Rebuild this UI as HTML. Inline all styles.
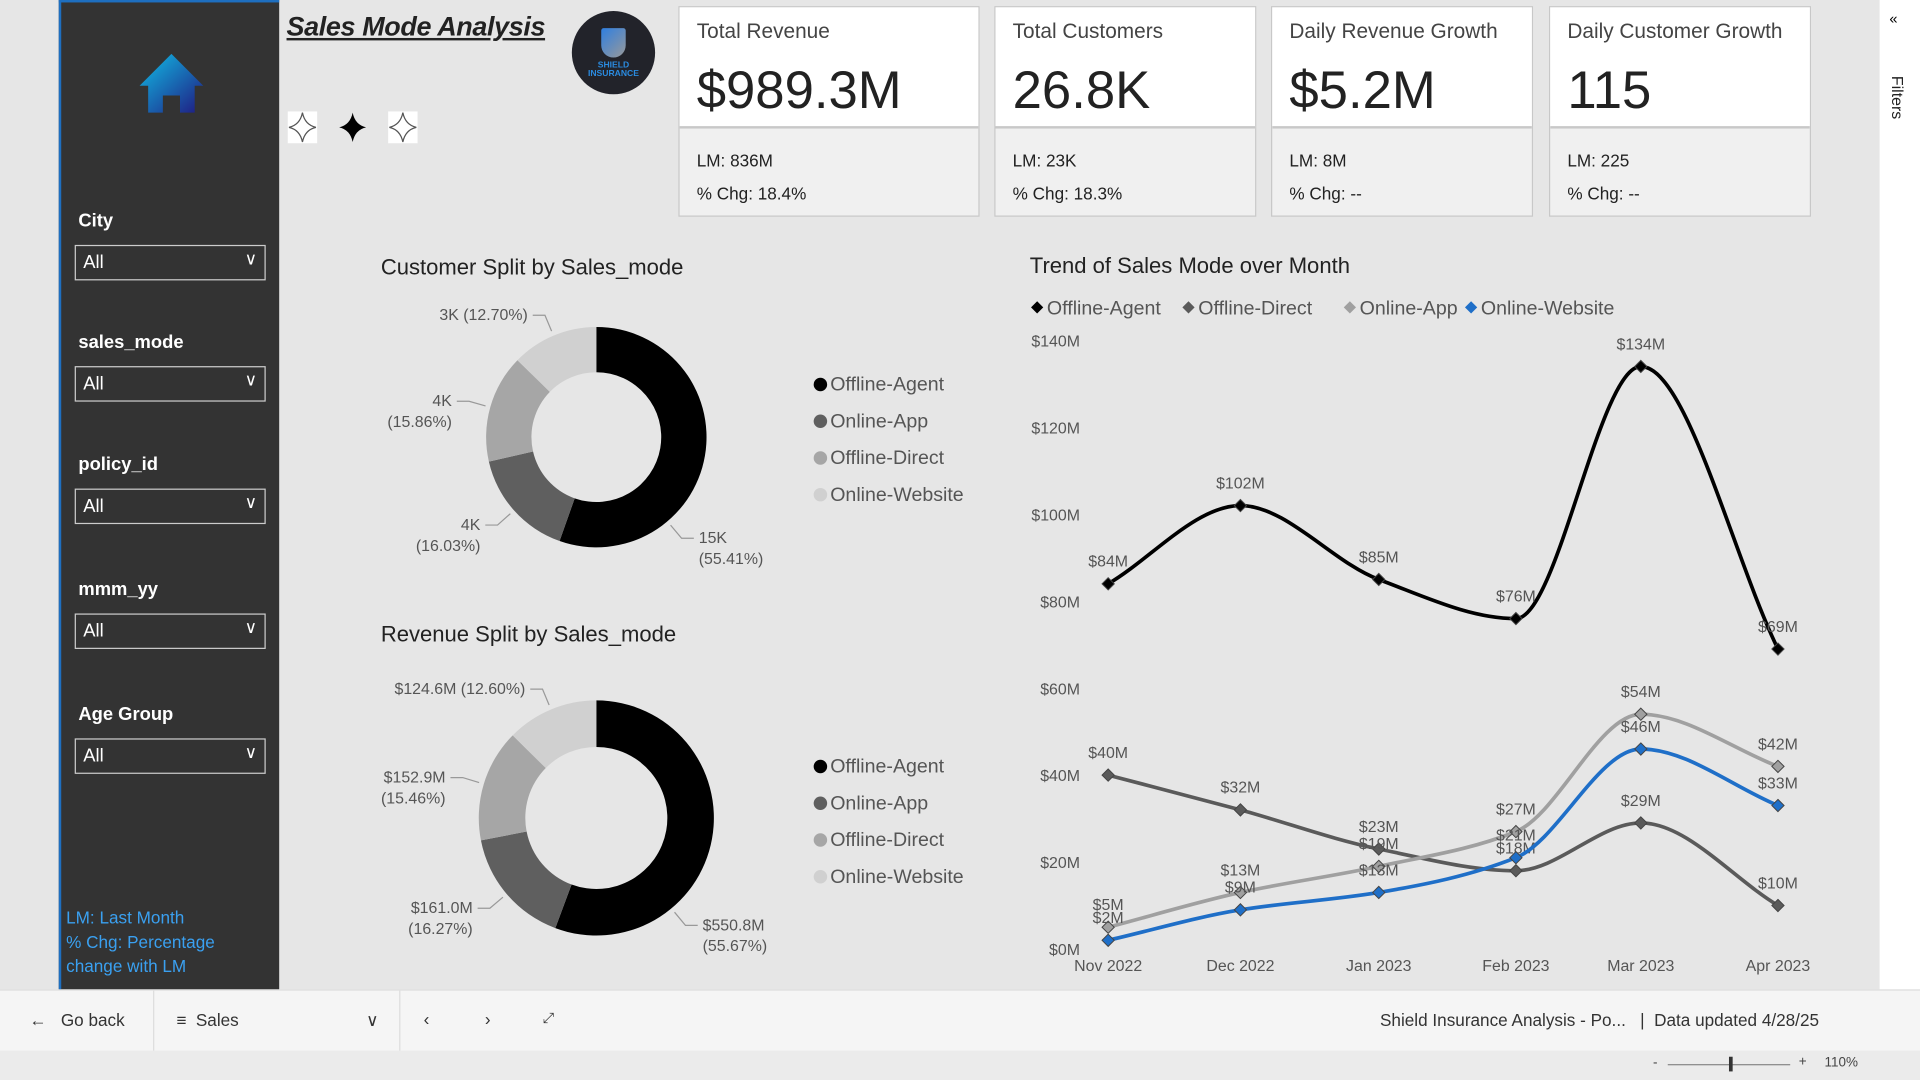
<!DOCTYPE html>
<html><head><meta charset="utf-8">
<style>
html,body{margin:0;padding:0;width:1920px;height:1080px;overflow:hidden;background:#e6e6e6;font-family:"Liberation Sans",sans-serif}
#wrap{position:absolute;left:0;top:0;width:1568px;height:882px;transform:scale(1.22449);transform-origin:0 0;background:#e6e6e6}
.abs{position:absolute}
.side{left:48px;top:0;width:180px;height:808px;background:#333;border-left:2px solid #1e6fc0;border-top:2px solid #1e6fc0;box-sizing:border-box}
.lbl{color:#fff;font-size:15px;font-weight:bold;left:14px}
.dd{left:11px;width:156px;height:29px;border:1px solid #ccc;box-sizing:border-box;color:#fff;font-size:15px;padding:5px 6px}
.dd span{position:absolute;right:6px;top:2px;font-size:14px}
.card{background:#f0f0f0;border:1px solid #c8c8c8;box-sizing:border-box}
.card .top{position:absolute;left:0;top:0;right:0;height:97px;background:#fff;border-bottom:2px solid #c8c8c8}
.card .t{position:absolute;left:14px;top:10px;font-size:17px;color:#444}
.card .v{position:absolute;left:14px;top:44px;font-size:43px;color:#222}
.card .s{position:absolute;left:14px;font-size:14px;color:#222}
.ttl{font-size:18px;color:#222}
</style></head><body>
<div id="wrap">
<div class="abs side">
  <svg class="abs" style="left:62px;top:40px" width="56" height="52">
    <defs><linearGradient id="hg" x1="0" y1="0" x2="1" y2="1"><stop offset="0" stop-color="#10c0e8"/><stop offset="1" stop-color="#201880"/></linearGradient></defs>
    <path d="M28 2 L54 28 L47 28 L47 50 L35 50 L35 36 L21 36 L21 50 L9 50 L9 28 L2 28 Z" fill="url(#hg)"/>
  </svg>
  <div class="abs lbl" style="top:170px">City</div>
  <div class="abs dd" style="top:198px">All<span>&#x2228;</span></div>
  <div class="abs lbl" style="top:269px">sales_mode</div>
  <div class="abs dd" style="top:297px">All<span>&#x2228;</span></div>
  <div class="abs lbl" style="top:369px">policy_id</div>
  <div class="abs dd" style="top:397px">All<span>&#x2228;</span></div>
  <div class="abs lbl" style="top:471px">mmm_yy</div>
  <div class="abs dd" style="top:499px">All<span>&#x2228;</span></div>
  <div class="abs lbl" style="top:573px">Age Group</div>
  <div class="abs dd" style="top:601px">All<span>&#x2228;</span></div>
  <div class="abs" style="left:4px;top:737px;color:#3aa0f0;font-size:14px;line-height:20px">LM: Last Month<br>% Chg: Percentage<br>change with LM</div>
</div>

<div class="abs" style="left:234px;top:9px;font-size:22px;font-weight:bold;font-style:italic;text-decoration:underline;color:#222;letter-spacing:-0.3px">Sales Mode Analysis</div>
<div class="abs" style="left:467px;top:9px;width:68px;height:68px;border-radius:50%;background:#22232a;color:#2a8be0;font-size:7px;font-weight:bold;text-align:center"><div style="margin:14px auto 0;width:20px;height:24px;background:linear-gradient(135deg,#2f7fe0,#999);border-radius:2px 2px 10px 10px"></div><div style="margin-top:3px">SHIELD<br>INSURANCE</div></div>
<svg class="abs" style="left:234px;top:90px" width="112" height="28">
  <rect x="1" y="1" width="24" height="26" fill="#fff"/><path d="M13 2 Q15 12 24 14 Q15 16 13 26 Q11 16 2 14 Q11 12 13 2Z" fill="#fff" stroke="#555"/>
  <path d="M54 2 Q56 12 65 14 Q56 16 54 26 Q52 16 43 14 Q52 12 54 2Z" fill="#000"/>
  <rect x="83" y="1" width="24" height="26" fill="#fff"/><path d="M95 2 Q97 12 106 14 Q97 16 95 26 Q93 16 84 14 Q93 12 95 2Z" fill="#fff" stroke="#555"/>
</svg>

<div class="abs card" style="left:554px;top:5px;width:246px;height:172px"><div class="top"><div class="t">Total Revenue</div><div class="v">$989.3M</div></div><div class="s" style="top:117px">LM: 836M</div><div class="s" style="top:144px">% Chg: 18.4%</div></div>
<div class="abs card" style="left:812px;top:5px;width:214px;height:172px"><div class="top"><div class="t">Total Customers</div><div class="v">26.8K</div></div><div class="s" style="top:117px">LM: 23K</div><div class="s" style="top:144px">% Chg: 18.3%</div></div>
<div class="abs card" style="left:1038px;top:5px;width:214px;height:172px"><div class="top"><div class="t">Daily Revenue Growth</div><div class="v">$5.2M</div></div><div class="s" style="top:117px">LM: 8M</div><div class="s" style="top:144px">% Chg: --</div></div>
<div class="abs card" style="left:1265px;top:5px;width:214px;height:172px"><div class="top"><div class="t">Daily Customer Growth</div><div class="v">115</div></div><div class="s" style="top:117px">LM: 225</div><div class="s" style="top:144px">% Chg: --</div></div>

<div class="abs ttl" style="left:311px;top:208px">Customer Split by Sales_mode</div>
<div class="abs ttl" style="left:311px;top:508px">Revenue Split by Sales_mode</div>
<div class="abs ttl" style="left:841px;top:207px">Trend of Sales Mode over Month</div>

<svg class="abs" id="donuts" style="left:0;top:0" width="840" height="808"></svg>
<svg class="abs" id="line" style="left:830px;top:230px" width="680" height="575"></svg>

<div class="abs" style="left:1535px;top:0;width:33px;height:808px;background:#fff"><div style="position:absolute;left:8px;top:8px;font-size:12px">&laquo;</div><div style="position:absolute;top:62px;transform:rotate(90deg);transform-origin:left top;left:22px;font-size:13px;color:#222">Filters</div></div>
<div class="abs" style="left:0;top:808px;width:1568px;height:50px;background:#f5f5f5;border-top:1px solid #ddd;font-size:14px;color:#333">
  <div class="abs" style="left:24px;top:16px">&larr;&nbsp;&nbsp;&nbsp;Go back</div>
  <div class="abs" style="left:125px;top:0;width:1px;height:50px;background:#ddd"></div>
  <div class="abs" style="left:144px;top:16px">&#8801;&nbsp;&nbsp;Sales<span style="position:absolute;left:155px">&#x2228;</span></div>
  <div class="abs" style="left:326px;top:0;width:1px;height:50px;background:#ddd"></div>
  <div class="abs" style="left:346px;top:15px">&lsaquo;</div>
  <div class="abs" style="left:396px;top:15px">&rsaquo;</div>
  <div class="abs" style="left:443px;top:15px;font-size:12px">&#x2922;</div>
  <div class="abs" style="left:1127px;top:16px">Shield Insurance Analysis - Po...&nbsp;&nbsp;&nbsp;|&nbsp;&nbsp;Data updated 4/28/25</div>
</div>
<div class="abs" style="left:0;top:858px;width:1568px;height:24px;background:#ebebeb;font-size:11px;color:#444">
  <div class="abs" style="left:1350px;top:4px">-</div>
  <div class="abs" style="left:1362px;top:11px;width:100px;height:1px;background:#888"></div>
  <div class="abs" style="left:1412px;top:5px;width:3px;height:12px;background:#333"></div>
  <div class="abs" style="left:1469px;top:3px">+</div>
  <div class="abs" style="left:1490px;top:4px">110%</div>
</div>
</div>
<script>
const NS="http://www.w3.org/2000/svg";
function mk(p,t,a){const e=document.createElementNS(NS,t);for(const k in a)e.setAttribute(k,a[k]);p.appendChild(e);return e;}
const donutCats=["Offline-Agent","Online-App","Offline-Direct","Online-Website"];
const custPct=[55.41,16.03,15.86,12.70];
const custLbl=["15K","4K","4K","3K"];
const revPct=[55.67,16.27,15.46,12.60];
const revLbl=["$550.8M","$161.0M","$152.9M","$124.6M"];
const donutColors=["#000000","#5f5f5f","#a6a6a6","#d0d0d0"];
const labelShift=[0.7,0,0,0];
const D=document.getElementById('donuts');
function donut(cx,cy,R,r,pcts,lbls,name){
  let a0=0;
  pcts.forEach((p,i)=>{
    const a1=a0+p/100*2*Math.PI;
    const pt=(rad,a)=>[cx+rad*Math.sin(a),cy-rad*Math.cos(a)];
    const [x0,y0]=pt(R,a0),[x1,y1]=pt(R,a1),[x2,y2]=pt(r,a1),[x3,y3]=pt(r,a0);
    const lg=(a1-a0)>Math.PI?1:0;
    const s=mk(D,'path',{d:`M${x0} ${y0}A${R} ${R} 0 ${lg} 1 ${x1} ${y1}L${x2} ${y2}A${r} ${r} 0 ${lg} 0 ${x3} ${y3}Z`,fill:donutColors[i]});
    
    
    const am=(a0+a1)/2+labelShift[i];const [lx,ly]=pt(R+4,am);const [ex,ey]=pt(R+18,am);
    const right=Math.sin(am)>0;const hx=ex+(right?10:-10);
    mk(D,'polyline',{points:`${lx},${ly} ${ex},${ey} ${hx},${ey}`,fill:'none',stroke:'#999'});
    const tx=hx+(right?4:-4);
    const t=mk(D,'text',{x:tx,y:ey+(i==3?4:4),'font-size':13,fill:'#555','text-anchor':right?'start':'end','font-family':'Liberation Sans'});
    
    
    if(i==3){t.textContent=lbls[i]+' ('+p.toFixed(2)+'%)';}
    else{mk(t,'tspan',{x:tx}).textContent=lbls[i];mk(t,'tspan',{x:tx,dy:17}).textContent='('+p.toFixed(2)+'%)';}
    a0=a1-labelShift[i]+labelShift[i];
  });
}
donut(487,357,90,53,custPct,custLbl,'customer-donut');
donut(487,668,96,58,revPct,revLbl,'revenue-donut');
function legend(x,y){donutCats.forEach((c,i)=>{
  mk(D,'circle',{cx:x+5,cy:y+i*30-5,r:5.5,fill:donutColors[i]});
  const t=mk(D,'text',{x:x+13,y:y+i*30,'font-size':16,fill:'#555','font-family':'Liberation Sans'});
  
  
  t.textContent=c;});}
legend(665,319);legend(665,631);

const months=["Nov 2022","Dec 2022","Jan 2023","Feb 2023","Mar 2023","Apr 2023"];
const seriesNames=["Offline-Agent","Offline-Direct","Online-App","Online-Website"];
const offlineAgent=[84,102,85,76,134,69];
const offlineDirect=[40,32,23,18,29,10];
const onlineApp=[5,13,19,27,54,42];
const onlineWebsite=[2,9,13,21,46,33];
const yTicks=[0,20,40,60,80,100,120,140];
const seriesColors=["#000000","#5a5a5a","#a0a0a0","#1f6fc8"];
const L=document.getElementById('line');
const xs=[75,183,296,408,510,622];
const X=i=>xs[i];
const Y=v=>545-v*(497/140);
yTicks.forEach(v=>{const t=mk(L,'text',{x:52,y:Y(v)+5,'font-size':13,fill:'#555','text-anchor':'end','font-family':'Liberation Sans'});
  t.textContent='$'+v+'M';});
months.forEach((m,i)=>{const t=mk(L,'text',{x:X(i),y:563,'font-size':13,fill:'#555','text-anchor':'middle','font-family':'Liberation Sans'});
  t.textContent=m;});
let lx=12;
seriesNames.forEach((n,i)=>{
  mk(L,'path',{d:`M${lx} 21 l5 -5 l5 5 l-5 5z`,fill:seriesColors[i]});
  const t=mk(L,'text',{x:lx+13,y:27,'font-size':16,fill:'#555','font-family':'Liberation Sans'});
  
  t.textContent=n;lx+=13+n.length*8.2+4;});
function monotone(pts){
  const n=pts.length,dx=[],m=[],t=[];
  for(let i=0;i<n-1;i++){dx[i]=pts[i+1][0]-pts[i][0];m[i]=(pts[i+1][1]-pts[i][1])/dx[i];}
  t[0]=m[0];t[n-1]=m[n-2];
  for(let i=1;i<n-1;i++){t[i]=(m[i-1]*m[i]<=0)?0:3*(dx[i-1]+dx[i])/((2*dx[i]+dx[i-1])/m[i-1]+(dx[i]+2*dx[i-1])/m[i]);}
  let d=`M${pts[0][0]} ${pts[0][1]}`;
  for(let i=0;i<n-1;i++){const h=dx[i]/3;
    d+=`C${pts[i][0]+h} ${pts[i][1]+t[i]*h} ${pts[i+1][0]-h} ${pts[i+1][1]-t[i+1]*h} ${pts[i+1][0]} ${pts[i+1][1]}`;}
  return d;}
[offlineAgent,offlineDirect,onlineApp,onlineWebsite].forEach((vals,si)=>{
  const pts=vals.map((v,i)=>[X(i),Y(v)]);
  const p=mk(L,'path',{d:monotone(pts),fill:'none',stroke:seriesColors[si],'stroke-width':3});
  
  pts.forEach((q,i)=>{const m=mk(L,'path',{d:`M${q[0]} ${q[1]-5}l5 5l-5 5l-5 -5z`,fill:seriesColors[si],stroke:'#444','stroke-width':0.8});
    
    const t=mk(L,'text',{x:q[0],y:q[1]-14,'font-size':13,fill:'#555','text-anchor':'middle','font-family':'Liberation Sans'});
    t.textContent='$'+vals[i]+'M';});
});
</script>
</body></html>
